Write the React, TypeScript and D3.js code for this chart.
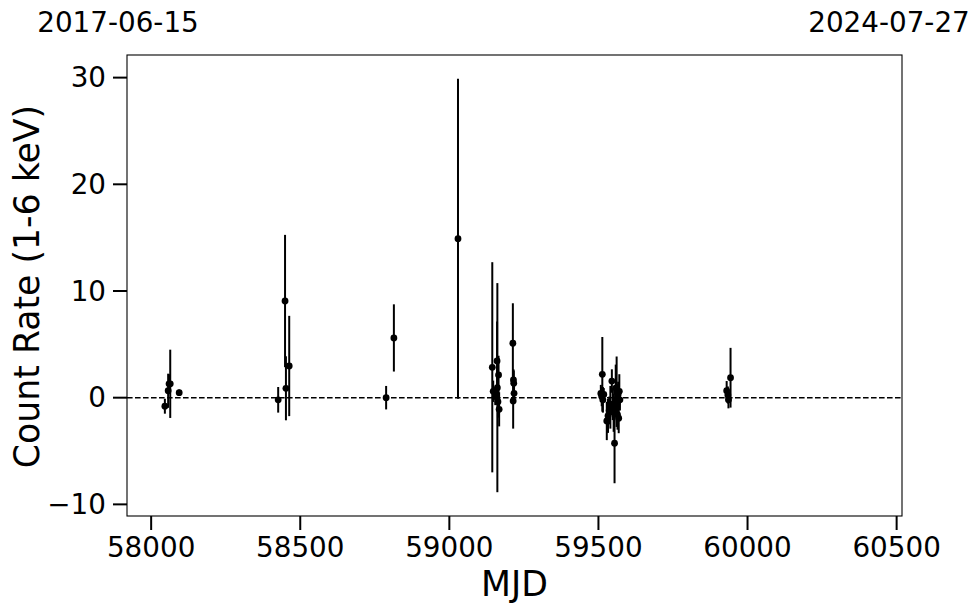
import { scaleLinear } from "d3";

// light curve, MJD vs count rate (1-6 keV), symmetric 1-sigma errors
const mjd = [
  58046, 58057, 58060, 58064, 58094,
  58426, 58449, 58452, 58463,
  58788, 58814,
  59029,
  59144, 59147, 59154, 59160, 59161, 59163, 59165, 59167,
  59213, 59214, 59215, 59216, 59217,
  59508, 59511, 59513, 59515, 59518, 59528, 59532, 59536, 59540, 59545,
  59548, 59551, 59554, 59556, 59558, 59561, 59562, 59564, 59566, 59568,
  59570, 59572,
  59930, 59934, 59936, 59943,
];
const rate = [
  -0.8, 0.65, 1.3, 1.3, 0.47,
  -0.2, 9.06, 0.88, 2.97,
  0.0, 5.6,
  14.9,
  2.85, 0.6, 0.1, 3.44, 0.94, -0.37, 2.13, -1.09,
  5.1, -0.3, 1.66, 1.35, 0.41,
  0.4, 0.1, 2.19, -0.2, 0.3, -2.18, -1.7, -1.2, -0.9, 1.56,
  -0.6, -1.4, -4.27, -0.2, 0.9, 0.56, -0.53, -1.6, 0.3, -1.93,
  0.6, -0.2,
  0.66, 0.25, -0.2, 1.87,
];
const err = [
  0.7, 1.6, 0.9, 3.2, 0.3,
  1.2, 6.2, 3.0, 4.7,
  1.1, 3.15,
  15.0,
  9.85, 1.0, 0.8, 3.7, 9.8, 1.5, 1.8, 1.6,
  3.75, 2.6, 1.0, 1.2, 1.0,
  0.8, 0.9, 3.5, 1.2, 0.6, 1.8, 1.6, 1.3, 2.0, 1.1,
  1.5, 1.8, 3.75, 1.4, 2.2, 3.3, 1.8, 1.4, 1.2, 1.4,
  1.6, 1.0,
  0.9, 0.8, 0.8, 2.8,
];

const xTicks = [58000, 58500, 59000, 59500, 60000, 60500];
const yTicks = [-10, 0, 10, 20, 30];
const dateLabels = ["2017-06-15", "2024-07-27"];
const xDomain = [57919, 60518];
const yDomain = [-11.09, 32.12];

const W = 980;
const H = 613;
const left = 127;
const right = 902;
const top = 55;
const bottom = 516;
const font = "DejaVu Sans";

export default function App() {
  const x = scaleLinear(xDomain, [left, right]);
  const y = scaleLinear(yDomain, [bottom, top]);
  const fmt = (v: number) => (v < 0 ? "\u2212" + Math.abs(v) : String(v));

  return (
    <svg
      width={W}
      height={H}
      style={{ position: "absolute", left: 0, top: 0, background: "#fff" }}
      fontFamily={font}
    >
      <rect x={left} y={top} width={right - left} height={bottom - top} fill="#fff" />

      {/* zero line */}
      <line
        x1={left}
        x2={right}
        y1={y(0)}
        y2={y(0)}
        stroke="#000"
        strokeWidth={1.5}
        strokeDasharray="5.6,2.4"
      />

      {/* error bars */}
      {mjd.map((m, i) => (
        <line
          key={"e" + i}
          x1={x(m)}
          x2={x(m)}
          y1={y(rate[i] - err[i])}
          y2={y(rate[i] + err[i])}
          stroke="#000"
          strokeWidth={2}
        />
      ))}
      {mjd.map((m, i) => (
        <circle key={"p" + i} cx={x(m)} cy={y(rate[i])} r={3.4} fill="#000" />
      ))}

      <rect
        x={left}
        y={top}
        width={right - left}
        height={bottom - top}
        fill="none"
        stroke="#000"
        strokeWidth={1.1}
      />

      {/* x axis */}
      {xTicks.map((t) => (
        <g key={"x" + t} transform={`translate(${x(t)},0)`}>
          <line y1={bottom} y2={bottom + 14} stroke="#000" strokeWidth={2} />
          <text y={557} textAnchor="middle" fontSize={27.8}>
            {t}
          </text>
        </g>
      ))}
      <text x={(left + right) / 2} y={596} textAnchor="middle" fontSize={34.7}>
        MJD
      </text>

      {/* y axis */}
      {yTicks.map((t) => (
        <g key={"y" + t} transform={`translate(0,${y(t)})`}>
          <line x1={left - 14} x2={left} stroke="#000" strokeWidth={2} />
          <text x={106} dy="0.35em" textAnchor="end" fontSize={27.8}>
            {fmt(t)}
          </text>
        </g>
      ))}
      <text
        transform={`translate(39,${(top + bottom) / 2 + 1}) rotate(-90)`}
        textAnchor="middle"
        fontSize={34.7}
      >
        Count Rate (1-6 keV)
      </text>

      {/* calendar dates of the x range */}
      <text x={118} y={32} textAnchor="middle" fontSize={27.8}>
        {dateLabels[0]}
      </text>
      <text x={889} y={32} textAnchor="middle" fontSize={27.8}>
        {dateLabels[1]}
      </text>
    </svg>
  );
}
